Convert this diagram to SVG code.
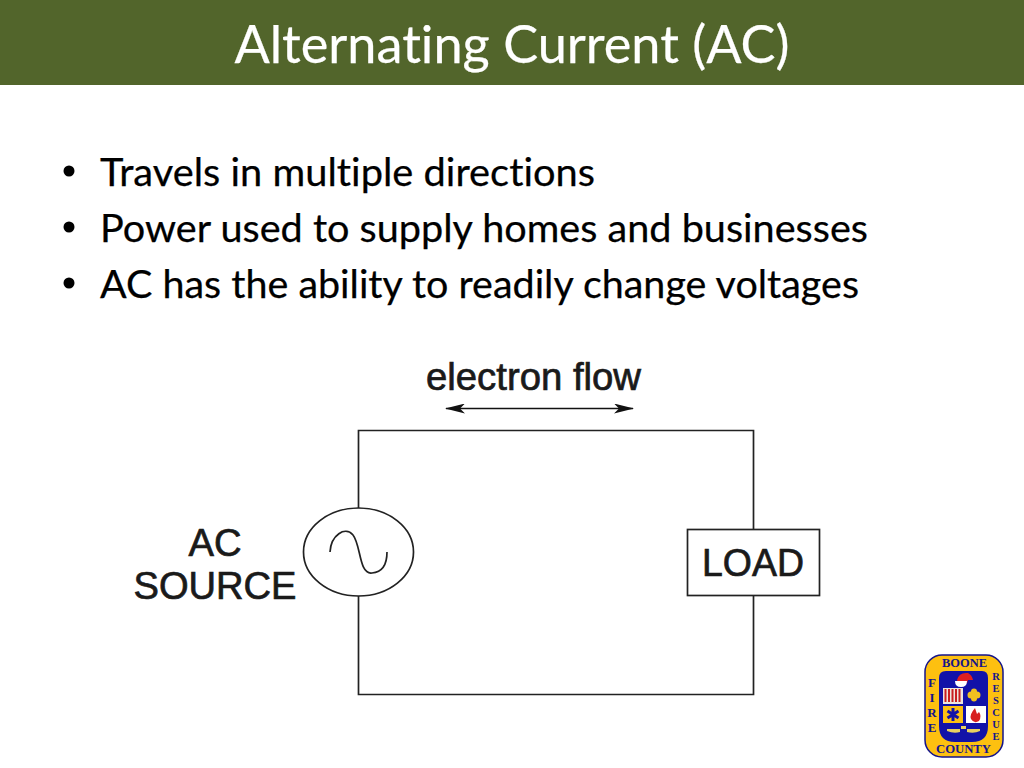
<svg xmlns="http://www.w3.org/2000/svg" width="1024" height="768" viewBox="0 0 1024 768">
<style>
.slide{font-family:Lato,"Noto Sans","Liberation Sans",sans-serif;fill:#000;font-variant-ligatures:none;stroke:#000;stroke-width:.25px}
.body{font-size:39px}
.fig{font-family:"Liberation Sans",Arial,sans-serif;fill:#1a1a1a;stroke:#1a1a1a;stroke-width:.7px;font-size:38px}
.w{fill:none;stroke:#222;stroke-width:1.7}
.logo{font-family:"Liberation Serif",serif;font-weight:bold;fill:#14148c;text-anchor:middle;font-size:13px}
.logo-s{font-size:10.500px}
</style>
<defs>
<marker id="ah" viewBox="0 0 20 10" refX="19" refY="5" markerWidth="20" markerHeight="10" markerUnits="userSpaceOnUse" orient="auto-start-reverse"><path d="M0 0L20 5L0 10L5 5Z" fill="#111"/></marker>
</defs>
<rect width="1024" height="768" fill="#fff"/>
<g id="title">
<rect width="1024" height="85" fill="#52652b"/>
<text x="512" y="63" class="slide" font-size="52" style="fill:#fff;stroke:#fff" text-anchor="middle" textLength="555" lengthAdjust="spacingAndGlyphs">Alternating Current (AC)</text>
</g>
<g id="bullets">
<circle cx="69" cy="171" r="5.500"/><circle cx="69" cy="227" r="5.500"/><circle cx="69" cy="283" r="5.500"/>
<text x="100" y="186" class="slide body" textLength="495" lengthAdjust="spacingAndGlyphs">Travels in multiple directions</text>
<text x="100" y="242" class="slide body" textLength="768" lengthAdjust="spacingAndGlyphs">Power used to supply homes and businesses</text>
<text x="100" y="298" class="slide body" textLength="759" lengthAdjust="spacingAndGlyphs">AC has the ability to readily change voltages</text>
</g>
<g id="connectors">
<path class="w" d="M358.500 508V430.500H753.500V529M753.500 596V694.500H358.500V596"/>
<path d="M446 408.500H633" fill="none" stroke="#111" stroke-width="1.700" marker-start="url(#ah)" marker-end="url(#ah)"/>
</g>
<g id="electron-flow"><text x="426" y="390" class="fig" textLength="215" lengthAdjust="spacingAndGlyphs">electron flow</text></g>
<g id="ac-source">
<ellipse class="w" cx="358.500" cy="552" rx="55" ry="44"/>
<path class="w" d="M330 552C331 535 345 526 353 535C361 545 359 575 372 573C384 572 387 562 387 552"/>
<text x="215" y="556" class="fig" text-anchor="middle" textLength="53" lengthAdjust="spacingAndGlyphs">AC</text>
<text x="215" y="599" class="fig" text-anchor="middle" textLength="163" lengthAdjust="spacingAndGlyphs">SOURCE</text>
</g>
<g id="load">
<rect class="w" x="687.500" y="529.500" width="132" height="66"/>
<text x="753" y="576" class="fig" text-anchor="middle" textLength="102" lengthAdjust="spacingAndGlyphs">LOAD</text>
</g>
<g id="logo">
<rect x="925" y="655" width="78" height="102" rx="17" fill="#fdc010" stroke="#14148c" stroke-width="1.500"/>
<path d="M939 678Q939 671 946 671H982Q988 671 988 678V726Q988 742 972 742H955Q939 742 939 726Z" fill="#1212a8"/>
<path d="M957 680Q959 672 968 673Q972 675 973 680L968 680L967 683L958 683Z" fill="#e02020"/>
<path d="M955 681H967Q967 687 961 687Q955 687 955 681Z" fill="#fff"/>
<rect x="943" y="688" width="20" height="16" fill="#efe6dc"/>
<path d="M945.500 689v13M949 689v13M952.500 689v13M956 689v13M959.500 689v13" stroke="#c82020" stroke-width="2"/>
<path d="M974 688.500a3 3 0 0 1 3 3a3.500 3.500 0 0 1 0 7a3 3 0 0 1 -6 0a3.500 3.500 0 0 1 0 -7a3 3 0 0 1 3 -3Z" fill="#f0c020"/>
<rect x="943" y="706" width="20" height="17" fill="#fdc010"/>
<path d="M953 708v13M947.500 711l11 7M958.500 711l-11 7" stroke="#1212a8" stroke-width="3"/>
<rect x="966" y="706" width="20" height="17" fill="#fff"/>
<path d="M975 708Q969 715 971 719Q974 724 979 721Q982 716 979 712L977 714Z" fill="#d82020"/>
<path d="M947 731Q954 734 960 732V729L947 729Z M967 732Q974 734 980 731V729H967Z" fill="#e8d060"/>
<rect x="961" y="726" width="5" height="3" fill="#e8d060"/>
<text x="964.500" y="667" class="logo" textLength="45" lengthAdjust="spacingAndGlyphs">BOONE</text>
<text x="963.500" y="753" class="logo" textLength="55" lengthAdjust="spacingAndGlyphs">COUNTY</text>
<text x="932" y="687" class="logo">F</text><text x="932" y="702" class="logo">I</text><text x="932" y="717" class="logo">R</text><text x="932" y="732" class="logo">E</text>
<text x="996" y="680" class="logo logo-s">R</text><text x="996" y="692" class="logo logo-s">E</text><text x="996" y="704" class="logo logo-s">S</text><text x="996" y="716" class="logo logo-s">C</text><text x="996" y="728" class="logo logo-s">U</text><text x="996" y="740" class="logo logo-s">E</text>
</g>
</svg>
